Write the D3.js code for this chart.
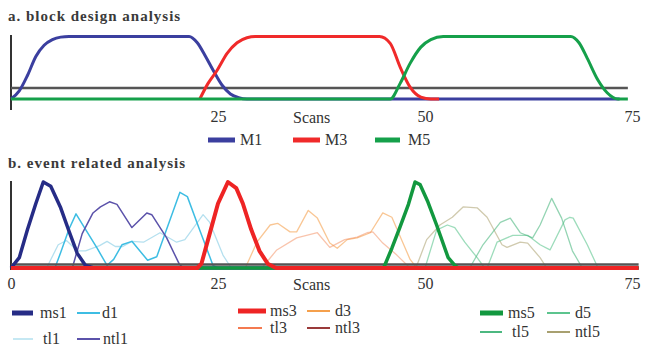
<!DOCTYPE html>
<html>
<head>
<meta charset="utf-8">
<script src="https://cdn.jsdelivr.net/npm/d3@7"></script>
<style>
  body { margin: 0; background: #fff; }
  svg { display: block; }
</style>
</head>
<body>
<div id="chart"></div>
<script>
// tick labels
const ticksA = [25, 50, 75];
const ticksB = [0, 25, 50, 75];

// a. block design: [scan, value]
const M1 = [[0,0],[1,0.13],[2,0.38],[3,0.68],[4,0.86],[5,0.95],[6,0.99],[7,1],[21.5,1],[22.5,0.9],[23.5,0.68],[24.5,0.44],[25.5,0.22],[26.5,0.08],[27.5,0.02],[28.5,0],[73.5,0]];
const M3 = [[22.8,0],[23.8,0.25],[24.9,0.46],[26.1,0.73],[27.3,0.9],[28.5,0.98],[29.5,1],[44.5,1],[45.8,0.89],[47,0.51],[48.2,0.19],[49.5,0.03],[50.7,0],[51.7,0]];
const M5 = [[0,0],[45.8,0],[47,0.25],[48.2,0.57],[49.5,0.83],[50.7,0.95],[52.2,1],[67.6,1],[68.6,0.9],[69.6,0.65],[70.9,0.3],[72,0.1],[73.3,0],[74.5,0]];
const threshA = [[0,0.175],[74.5,0.175]];

// b. event related: [scan, value]
const ms1 = [[0,0],[1,0.12],[2,0.45],[3,0.75],[3.9,1],[4.8,0.95],[6,0.7],[7,0.43],[8,0.17],[9,0.03],[10,0],[75.8,0]];
const d1 = [[5.3,0],[6,0.18],[7,0.45],[7.85,0.63],[9,0.45],[10.4,0.23],[11.6,0.03],[12.4,0.1],[13.4,0.27],[14.6,0.31],[16.5,0.09],[17.6,0.13],[20.4,0.88],[21.3,0.83],[22.8,0.44],[24.4,0.03],[25,0]];
const tl1 = [[4.3,0],[5.7,0.27],[6.7,0.32],[8,0.2],[9,0.2],[10.7,0.26],[11.6,0.31],[12.6,0.25],[13.5,0.25],[14.6,0.31],[16,0.3],[18,0.41],[20,0.3],[21,0.33],[23.2,0.62],[24,0.53],[25.6,0.15],[26.6,0]];
const ntl1 = [[7.4,0],[8.6,0.4],[9.9,0.64],[10.8,0.71],[11.9,0.77],[12.8,0.74],[14.6,0.47],[16.4,0.64],[17,0.62],[18.8,0.35],[20.3,0.05],[20.8,0]];
const ms3 = [[0,0],[22.5,0],[23,0.05],[24,0.4],[25,0.75],[26.2,1],[27.2,0.93],[28,0.75],[29,0.45],[30,0.2],[31,0.05],[32,0],[75.8,0]];
const d3s = [[28.3,0],[29.7,0.3],[31.3,0.5],[32.2,0.52],[33.7,0.42],[34.5,0.42],[35.9,0.67],[37,0.58],[38.5,0.29],[39.4,0.23],[40.6,0.33],[41.8,0.35],[43.4,0.41],[44.9,0.64],[46,0.59],[47.3,0.3],[48.2,0.1],[49,0]];
const tl3 = [[30.3,0],[32.1,0.21],[34.5,0.35],[37,0.41],[38.5,0.24],[40.3,0.33],[41.8,0.36],[43,0.41],[43.7,0.42],[44.9,0.29],[46.6,0.15],[48.2,0]];
const ntl3 = [[0,0],[75.8,0]];
const ms5 = [[0,0],[45,0],[46,0.23],[47,0.48],[48,0.74],[48.8,1],[49.4,0.97],[50.3,0.78],[51.4,0.5],[52.8,0.12],[53.6,0.03],[54,0],[75.8,0]];
const d5 = [[50,0],[51.4,0.44],[52.7,0.5],[53.6,0.47],[54.8,0.3],[56.3,0.12],[57.2,0],[57.5,0],[58.7,0.3],[60.6,0.38],[62.4,0.38],[63.9,0.27],[65.1,0.21],[66.9,0.56],[67.5,0.59],[67.9,0.58],[69.6,0.27],[70.9,0]];
const tl5 = [[55.4,0],[57,0.27],[59.1,0.53],[60.3,0.58],[61.5,0.41],[63,0.35],[63.9,0.5],[65.3,0.81],[66.5,0.58],[67.8,0.2],[69,0]];
const ntl5 = [[48.9,0],[50.2,0.33],[51.8,0.5],[53.3,0.59],[54.6,0.71],[56.3,0.7],[57.5,0.59],[59.3,0.27],[59.9,0.24],[61.5,0.3],[62.4,0.29],[63.9,0.12],[64.7,0]];
const threshB = [[0,0.04],[75.8,0.04]];

const FONT = '"Liberation Serif"';
const W = 649, H = 347;
const svg = d3.select("#chart").append("svg")
	.attr("width", W).attr("height", H)
	.attr("font-family", FONT)
	.style("font-family", FONT);
svg.append("rect").attr("width", W).attr("height", H).attr("fill", "#fff");

const x = d3.scaleLinear().domain([0, 75]).range([11, 632]);
const yA = d3.scaleLinear().domain([0, 1]).range([99, 36.5]);
const yB = d3.scaleLinear().domain([0, 1]).range([268, 182]);

function drawLine(g, data, y, color, width, curve, opacity) {
	const line = d3.line().x(d => x(d[0])).y(d => y(d[1])).curve(curve || d3.curveLinear);
	g.append("path")
		.datum(data)
		.attr("fill", "none")
		.attr("stroke", color)
		.attr("stroke-width", width)
		.attr("stroke-opacity", opacity == null ? 1 : opacity)
		.attr("stroke-linejoin", "round")
		.attr("stroke-linecap", "butt")
		.attr("d", line);
}

function addText(g, tx, ty, label, size, bold) {
	return g.append("text")
		.attr("x", tx).attr("y", ty)
		.attr("font-family", FONT)
		.style("font-family", FONT)
		.style("font-size", size + "px")
		.style("font-weight", bold ? "bold" : "normal")
		.attr("fill", bold ? "#3a3a3a" : "#333")
		.text(label);
}

function drawAxis(g, top, bottom, ticks, axisY) {
	g.append("line")
		.attr("x1", x(0)).attr("x2", x(0))
		.attr("y1", top).attr("y2", bottom)
		.attr("stroke", "#333").attr("stroke-width", 2);
	const ax = g.append("g")
		.attr("transform", `translate(0,${axisY})`)
		.call(d3.axisBottom(x).tickValues(ticks).tickSize(0).tickPadding(3).tickFormat(d3.format("d")));
	ax.attr("font-family", FONT).attr("font-size", 16);
	ax.select(".domain").remove();
	ax.selectAll("text")
		.style("font-family", FONT)
		.style("font-size", "16px")
		.attr("fill", "#333");
	addText(g, 293, axisY + 14.5, "Scans", 16);
}

function legendItem(g, x1, x2, ly, color, width, label, tx) {
	g.append("line")
		.attr("x1", x1).attr("x2", x2).attr("y1", ly).attr("y2", ly)
		.attr("stroke", color).attr("stroke-width", width);
	addText(g, tx, ly + 5, label, 16);
}

// ---- panel a
const gA = svg.append("g");
addText(gA, 8, 21, "a. block design analysis", 15, true).style("letter-spacing", "1px");
drawAxis(gA, 35, 110, ticksA, 108);
drawLine(gA, threshA, yA, "#555", 2.5);
drawLine(gA, M1, yA, "#3b3f9f", 3, d3.curveMonotoneX);
drawLine(gA, M3, yA, "#f02a2a", 3, d3.curveMonotoneX);
drawLine(gA, M5, yA, "#15a04a", 3, d3.curveMonotoneX);

legendItem(gA, 208, 235, 140, "#3b3f9f", 5, "M1", 240);
legendItem(gA, 293, 320, 140, "#f02a2a", 5, "M3", 325);
legendItem(gA, 375, 400, 140, "#15a04a", 5, "M5", 408);

// ---- panel b
const gB = svg.append("g");
addText(gB, 8, 168, "b. event related analysis", 15, true).style("letter-spacing", "1px");
drawAxis(gB, 181, 270, ticksB, 275);

drawLine(gB, tl1, yB, "#b5e0ef", 1.3);
drawLine(gB, d1, yB, "#3dbde3", 1.5);
drawLine(gB, ntl1, yB, "#5b52aa", 1.5);
drawLine(gB, d3s, yB, "#f5a04c", 1.3, null, 0.6);
drawLine(gB, tl3, yB, "#f48a5a", 1.3, null, 0.5);
drawLine(gB, ntl3, yB, "#9a3a3a", 1.3);
drawLine(gB, ntl5, yB, "#b0a678", 1.3, null, 0.6);
drawLine(gB, d5, yB, "#5cc48e", 1.3, null, 0.6);
drawLine(gB, tl5, yB, "#4cb880", 1.3, null, 0.6);
drawLine(gB, threshB, yB, "#555", 2.5);
drawLine(gB, ms1, yB, "#262c86", 3.5);
drawLine(gB, ms5, yB, "#12983f", 3.5);
drawLine(gB, ms3, yB, "#ee2424", 4);

legendItem(gB, 12, 33, 313, "#262c86", 5, "ms1", 40);
legendItem(gB, 77, 100, 313, "#3dbde3", 2, "d1", 102);
legendItem(gB, 13, 33, 339, "#c5e8f3", 2, "tl1", 43);
legendItem(gB, 77, 100, 339, "#5b52aa", 2, "ntl1", 103);
legendItem(gB, 238, 266, 311, "#ee2424", 5, "ms3", 270);
legendItem(gB, 307, 330, 311, "#f5a04c", 2, "d3", 335);
legendItem(gB, 238, 262, 328, "#f47a50", 2, "tl3", 270);
legendItem(gB, 307, 330, 328, "#9a3a3a", 2, "ntl3", 335);
legendItem(gB, 480, 503, 313, "#12983f", 5, "ms5", 508);
legendItem(gB, 547, 570, 313, "#5cc48e", 2, "d5", 575);
legendItem(gB, 480, 502, 332, "#4cb880", 2, "tl5", 512);
legendItem(gB, 547, 570, 332, "#a8a070", 2, "ntl5", 575);
</script>
</body>
</html>
